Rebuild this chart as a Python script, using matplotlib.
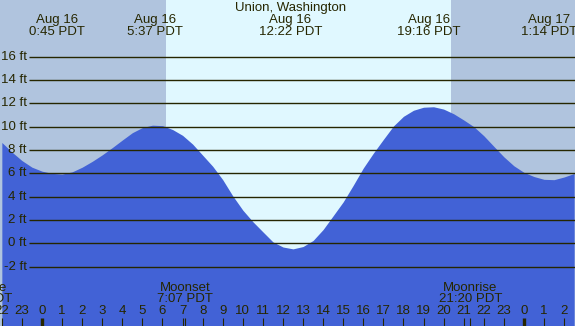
import numpy as np
import matplotlib
matplotlib.use("Agg")
import matplotlib.pyplot as plt

plt.rcParams['font.family'] = ['Liberation Sans', 'DejaVu Sans']

# tide level (ft) every half hour, from 22:00 Aug 15 (hour -2) to 02:30 Aug 17 (hour 26.5)
hours = np.arange(-2.0, 27.0, 0.5)
level = [8.64, 7.82, 7.09, 6.52, 6.18, 5.99, 5.93, 6.12, 6.52, 7.02,
         7.58, 8.20, 8.85, 9.48, 9.92, 10.12, 10.08, 9.75, 9.25, 8.50,
         7.55, 6.60, 5.45, 4.06, 2.84, 1.85, 0.98, 0.12, -0.32, -0.48,
         -0.28, 0.24, 1.18, 2.36, 3.55, 4.97, 6.45, 7.72, 8.90, 10.05,
         10.88, 11.40, 11.66, 11.70, 11.50, 11.10, 10.57, 10.00, 9.22, 8.31,
         7.41, 6.64, 6.08, 5.72, 5.48, 5.45, 5.68, 5.98]

# high / low tide events
tide_hours = [0.75, 5.617, 12.367, 19.267, 25.233]
tide_dates = ["Aug 16", "Aug 16", "Aug 16", "Aug 16", "Aug 17"]
tide_times = ["0:45 PDT", "5:37 PDT", "12:22 PDT", "19:16 PDT", "1:14 PDT"]

# sun and moon
sunrise, sunset = 6.17, 20.37
moon_hours = [-3.08, 7.117, 21.333]
moon_names = ["Moonrise", "Moonset", "Moonrise"]
moon_times = ["20:55 PDT", "7:07 PDT", "21:20 PDT"]

ft_ticks = [-2, 0, 2, 4, 6, 8, 10, 12, 14, 16]
hour_ticks = list(range(-2, 27))

night = '#b0c4de'
day = '#e0f8ff'
water = '#4262d6'
ink = '#262600'

fig = plt.figure(figsize=(5.75, 3.26), dpi=100)
ax = fig.add_axes([0, 0, 1, 1])
ax.set_xlim(-2.092, 26.544)
ax.set_ylim(-7.09, 20.85)
ax.axis('off')

# day / night background
ax.axvspan(-5, sunrise, color=night, lw=0, zorder=0)
ax.axvspan(sunrise, sunset, color=day, lw=0, zorder=0)
ax.axvspan(sunset, 30, color=night, lw=0, zorder=0)

# water
ax.fill_between(hours, level, -10, color=water, lw=0, zorder=1)

# grid lines and ft labels
ax.hlines(ft_ticks, -0.65, 30, color=ink, lw=1.0, zorder=3)
for v in ft_ticks:
    ax.text(-0.75, v, f"{v} ft", ha='right', va='center', fontsize=9.5,
            color=ink, zorder=4)

tr = ax.get_xaxis_transform()

# title and tide events on top
ax.text(12.367, 1 - 8 / 326, "Union, Washington", transform=tr, ha='center',
        va='center', fontsize=9.5, color=ink)
for h, d, t in zip(tide_hours, tide_dates, tide_times):
    ax.text(h, 1 - 20 / 326, d, transform=tr, ha='center', va='center',
            fontsize=9.5, color=ink)
    ax.text(h, 1 - 32 / 326, t, transform=tr, ha='center', va='center',
            fontsize=9.5, color=ink)

# moon events
for h, n, t in zip(moon_hours, moon_names, moon_times):
    ax.text(h, 38 / 326, n, transform=tr, ha='center', va='center',
            fontsize=9.5, color=ink)
    ax.text(h, 27 / 326, t, transform=tr, ha='center', va='center',
            fontsize=9.5, color=ink)
    ax.vlines(h, 0, 8 / 326, transform=tr, color=ink, lw=0.8)

# hour ticks and labels
for h in hour_ticks:
    lw = 2.4 if h % 24 == 0 else 0.8
    ax.vlines(h, 0, 8 / 326, transform=tr, color=ink, lw=lw)
    ax.text(h, 15 / 326, str(h % 24), transform=tr, ha='center', va='center',
            fontsize=9.5, color=ink)

fig.savefig("out.png", dpi=100)
